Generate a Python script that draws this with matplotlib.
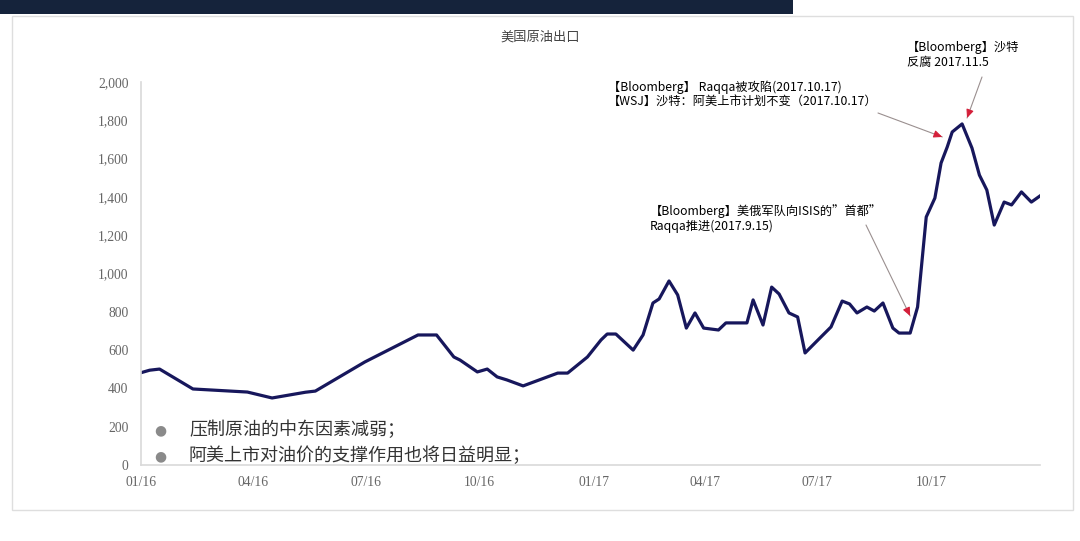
import matplotlib
matplotlib.use("Agg")
import matplotlib.pyplot as plt
import matplotlib.dates as mdates
from matplotlib.patches import Rectangle
import numpy as np
import pandas as pd

plt.rcParams['font.family'] = ['Noto Sans CJK SC', 'DejaVu Sans']

# ------------------------------------------------
# Data: US crude oil exports (thousand bbl/day)
# ------------------------------------------------
dates = [
    "2016-01-01", "2016-01-08", "2016-01-16", "2016-02-12", "2016-03-27",
    "2016-04-16", "2016-05-13", "2016-05-21", "2016-06-30", "2016-08-12",
    "2016-08-27", "2016-09-10", "2016-09-15", "2016-09-29", "2016-10-07",
    "2016-10-15", "2016-10-23", "2016-11-05", "2016-12-03", "2016-12-11",
    "2016-12-27", "2017-01-07", "2017-01-12", "2017-01-19", "2017-02-02",
    "2017-02-10", "2017-02-18", "2017-02-23", "2017-03-03", "2017-03-10",
    "2017-03-17", "2017-03-24", "2017-03-31", "2017-04-12", "2017-04-18",
    "2017-05-05", "2017-05-10", "2017-05-18", "2017-05-25", "2017-05-31",
    "2017-06-08", "2017-06-15", "2017-06-21", "2017-07-03", "2017-07-12",
    "2017-07-21", "2017-07-27", "2017-08-02", "2017-08-10", "2017-08-16",
    "2017-08-23", "2017-08-31", "2017-09-05", "2017-09-14", "2017-09-20",
    "2017-09-27", "2017-10-04", "2017-10-09", "2017-10-14", "2017-10-18",
    "2017-10-26", "2017-11-03", "2017-11-09", "2017-11-15", "2017-11-21",
    "2017-11-29", "2017-12-05", "2017-12-13", "2017-12-21", "2017-12-28",
]
exports = [
    482, 495, 501, 397, 381,
    350, 380, 386, 538, 679,
    679, 564, 548, 486, 501,
    460, 444, 413, 480, 480,
    564, 653, 684, 684, 600,
    679, 846, 867, 961, 888,
    715, 794, 715, 705, 742,
    742, 862, 731, 929, 893,
    794, 773, 585, 663, 721,
    856, 841, 794, 825, 804,
    846, 715, 689, 689, 825,
    1295, 1394, 1577, 1661, 1739,
    1781, 1655, 1514, 1436, 1253,
    1373, 1358, 1426, 1373, 1405,
]

tick_dates = ["2016-01-01", "2016-04-01", "2016-07-01", "2016-10-01",
              "2017-01-01", "2017-04-01", "2017-07-01", "2017-10-01"]
tick_labels = ["01/16", "04/16", "07/16", "10/16", "01/17", "04/17", "07/17", "10/17"]
y_ticks = [0, 200, 400, 600, 800, 1000, 1200, 1400, 1600, 1800, 2000]

bullets = ["压制原油的中东因素减弱；", "阿美上市对油价的支撑作用也将日益明显；"]

notes = [
    # text lines, text pos (px from top-left), arrow tail (px), arrow target (date, value)
    (["【Bloomberg】 Raqqa被攻陷(2017.10.17)", "【WSJ】沙特：阿美上市计划不变（2017.10.17）"],
     (608, 87), (878, 113), ("2017-10-10", 1713)),
    (["【Bloomberg】沙特", "反腐 2017.11.5"],
     (907, 47), (982, 77), ("2017-10-30", 1812)),
    (["【Bloomberg】美俄军队向ISIS的”首都”", "Raqqa推进(2017.9.15)"],
     (650, 211), (866, 225), ("2017-09-14", 778)),
]

x = pd.to_datetime(dates)
W, H = 1080, 541

fig = plt.figure(figsize=(W / 100, H / 100), dpi=100)

# frame, top banner
fig.patches.append(Rectangle((0, (H - 14) / H), 793 / W, 14 / H, transform=fig.transFigure,
                             facecolor='#15233b', edgecolor='none', zorder=-2))
fig.patches.append(Rectangle((12 / W, (H - 510) / H), 1061 / W, 494 / H, transform=fig.transFigure,
                             facecolor='white', edgecolor='#dedede', linewidth=1, zorder=-2))

ax = fig.add_axes([141 / W, 1 - 465 / H, (1040 - 141) / W, (465 - 82) / H])
ax.set_zorder(1)
ax.patch.set_alpha(0)
ax.plot(x, exports, color='#17175c', linewidth=2.3, solid_joinstyle='round')

ax.set_xlim(pd.Timestamp("2016-01-01"), x[-1])
ax.set_ylim(0, 2000)
ax.set_yticks(y_ticks)
ax.set_yticklabels([f"{v:,}" for v in y_ticks], family='Liberation Serif', fontsize=9.8, color='#666666')
ax.set_xticks(pd.to_datetime(tick_dates))
ax.set_xticklabels(tick_labels, family='Liberation Serif', fontsize=9.8, color='#666666')
ax.tick_params(axis='both', length=0)
ax.tick_params(axis='y', pad=9)
ax.tick_params(axis='x', pad=8)
for s in ['top', 'right']:
    ax.spines[s].set_visible(False)
for s in ['left', 'bottom']:
    ax.spines[s].set_color('#d9d9d9')
    ax.spines[s].set_linewidth(1.2)

fig.text(540 / W, 1 - 37 / H, "美国原油出口", ha='center', va='center', fontsize=9.5, color='#444444')

# bullet notes
for i, t in enumerate(bullets):
    yy = 1 - (430 + 26 * i) / H
    fig.text(160 / W, yy, "●", ha='center', va='center', fontsize=10, color='#8a8a8a',
             family=['DejaVu Sans'])
    fig.text(189 / W, yy, t, ha='left', va='center', fontsize=13, color='#333333')

# news annotations
fig.canvas.draw()
for lines, tpos, tail, target in notes:
    for j, ln in enumerate(lines):
        fig.text(tpos[0] / W, 1 - (tpos[1] + 15.5 * j) / H, ln, ha='left', va='center',
                 fontsize=8.8, color='black', fontweight='medium')
    xy = (mdates.date2num(pd.Timestamp(target[0])), target[1])
    tail_px = (tail[0], H - tail[1])
    ax.annotate('', xy=xy, xycoords='data', xytext=tail_px, textcoords='figure pixels',
                arrowprops=dict(arrowstyle='-', color='#9a8f8f', lw=0.8, shrinkA=0, shrinkB=0))
    tip = ax.transData.transform(xy)
    d = tip - np.array(tail_px)
    d = d / np.hypot(*d)
    ax.annotate('', xy=xy, xycoords='data', xytext=(-d[0] * 7, -d[1] * 7), textcoords='offset pixels',
                arrowprops=dict(arrowstyle='-|>,head_length=0.5,head_width=0.22', color='#d4203a',
                                lw=0.8, shrinkA=0, shrinkB=0))

fig.savefig('out.png', dpi=100)
